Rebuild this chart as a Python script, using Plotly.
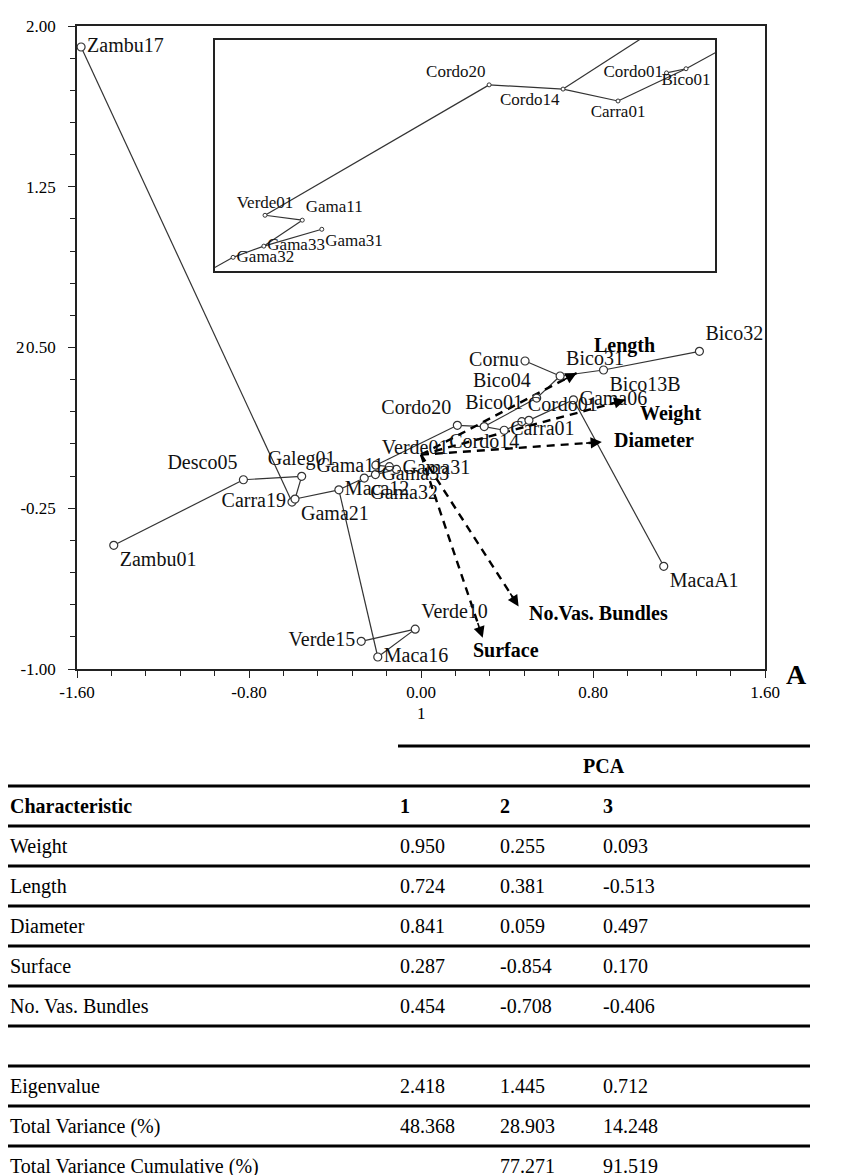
import plotly.graph_objects as go

# ---------------- data ----------------
names = ["Zambu17", "Zambu01", "Desco05", "Galeg01", "Carra19", "Gama21", "Maca12",
         "Maca16", "Verde15", "Verde10", "Gama32", "Gama33", "Gama31", "Gama11",
         "Verde01", "Cordo20", "Cordo14", "Carra01", "Cordo01", "Bico01", "Bico04",
         "Gama06", "MacaA1", "Bico31", "Cornu", "Bico13B", "Bico32"]
pc1 = [-1.581, -1.429, -0.826, -0.555, -0.600, -0.586, -0.382,
       -0.201, -0.278, -0.027, -0.264, -0.212, -0.114, -0.147,
       -0.210, 0.169, 0.294, 0.387, 0.469, 0.502, 0.538,
       0.709, 1.129, 0.647, 0.484, 0.849, 1.295]
pc2 = [1.902, -0.423, -0.117, -0.101, -0.221, -0.207, -0.164,
       -0.944, -0.871, -0.814, -0.109, -0.093, -0.069, -0.056,
       -0.049, 0.137, 0.131, 0.114, 0.154, 0.160, 0.264,
       0.256, -0.521, 0.367, 0.437, 0.395, 0.482]
edges = [("Zambu01", "Desco05"), ("Desco05", "Galeg01"), ("Galeg01", "Gama21"),
         ("Zambu17", "Carra19"), ("Carra19", "Gama21"), ("Gama21", "Maca12"),
         ("Maca12", "Maca16"), ("Maca16", "Verde10"), ("Verde15", "Verde10"),
         ("Maca12", "Gama32"), ("Gama32", "Gama33"), ("Gama33", "Gama31"),
         ("Gama33", "Gama11"), ("Gama11", "Verde01"), ("Verde01", "Cordo20"),
         ("Cordo20", "Cordo14"), ("Cordo14", "Carra01"), ("Cordo14", "Bico04"),
         ("Carra01", "Bico01"), ("Cordo01", "Bico01"), ("Bico01", "Gama06"),
         ("Gama06", "MacaA1"), ("Bico04", "Bico31"), ("Bico31", "Cornu"),
         ("Bico31", "Bico13B"), ("Bico13B", "Bico32")]

characteristics = ["Weight", "Length", "Diameter", "Surface", "No. Vas. Bundles"]
load1 = [0.950, 0.724, 0.841, 0.287, 0.454]
load2 = [0.255, 0.381, 0.059, -0.854, -0.708]
load3 = [0.093, -0.513, 0.497, 0.170, -0.406]
arrow_labels = ["Weight", "Length", "Diameter", "Surface", "No.Vas. Bundles"]

summary_rows = ["Eigenvalue", "Total Variance (%)", "Total Variance Cumulative (%)"]
summary1 = [2.418, 48.368, None]
summary2 = [1.445, 28.903, 77.271]
summary3 = [0.712, 14.248, 91.519]

x_ticks = [-1.6, -0.8, 0.0, 0.8, 1.6]
y_ticks = [-1.0, -0.25, 0.5, 1.25, 2.0]

# ---------------- styles / layout helpers ----------------
W, H = 865, 1175
SERIF = "Liberation Serif"
main_pos = ["middle right", "bottom right", "top left", "top center", "middle left",
            "bottom right", "middle right", "middle right", "middle left", "top right",
            "bottom right", "middle right", "middle right", "middle left", "top right",
            "top left", "bottom center", "middle right", "top right", "top left",
            "top left", "middle right", "bottom right", "top right", "middle left",
            "bottom right", "top right"]
inset_pos_map = {"Gama32": "middle right", "Gama33": "middle right", "Gama31": "bottom right",
                 "Gama11": "top right", "Verde01": "top center", "Cordo20": "top left",
                 "Cordo14": "bottom left", "Carra01": "bottom center",
                 "Cordo01": "middle left", "Bico01": "bottom center"}
INSET_X = [-0.2946, 0.551]
INSET_Y = [-0.1285, 0.201]


def px_x(p):
    return p / W


def px_y(p):
    return 1 - p / H


idx = {n: i for i, n in enumerate(names)}
ex, ey = [], []
for a, b in edges:
    ex += [pc1[idx[a]], pc1[idx[b]], None]
    ey += [pc2[idx[a]], pc2[idx[b]], None]

fig = go.Figure()
LINEC = "#333333"
# main tree
fig.add_trace(go.Scatter(x=ex, y=ey, mode="lines", line=dict(color=LINEC, width=1.2),
                         hoverinfo="skip", xaxis="x", yaxis="y"))
# loading arrows (dashed shafts)
for i in range(len(load1)):
    fig.add_trace(go.Scatter(x=[0, load1[i]], y=[0, load2[i]], mode="lines",
                             line=dict(color="black", width=2.4, dash="8px,6px"),
                             hoverinfo="skip", xaxis="x", yaxis="y"))
fig.add_trace(go.Scatter(x=pc1, y=pc2, mode="markers+text", text=names,
                         textposition=main_pos,
                         textfont=dict(family=SERIF, size=20, color="#111"),
                         marker=dict(symbol="circle", size=8, color="white",
                                     line=dict(color=LINEC, width=1.2)),
                         cliponaxis=False, xaxis="x", yaxis="y"))

# inset (zoom on central cluster)
inset_text, inset_tp = [], []
for n, x, y in zip(names, pc1, pc2):
    inside = INSET_X[0] <= x <= INSET_X[1] and INSET_Y[0] <= y <= INSET_Y[1]
    inset_text.append(n if inside else "")
    inset_tp.append(inset_pos_map.get(n, "middle right"))
fig.add_trace(go.Scatter(x=ex, y=ey, mode="lines", line=dict(color=LINEC, width=1.2),
                         hoverinfo="skip", xaxis="x2", yaxis="y2"))
fig.add_trace(go.Scatter(x=pc1, y=pc2, mode="markers+text", text=inset_text,
                         textposition=inset_tp,
                         textfont=dict(family=SERIF, size=17, color="#111"),
                         marker=dict(symbol="circle", size=4, color="white",
                                     line=dict(color=LINEC, width=1)),
                         xaxis="x2", yaxis="y2"))

annotations = []
shapes = []
# arrowheads + labels
label_shift = [(13, -13), (15, 28), (10, 2), (-12, -12), (8, -7)]
for i in range(len(load1)):
    x, y = load1[i], load2[i]
    norm = (x * x + y * y) ** 0.5
    ux, uy = x / norm, y / norm
    annotations.append(dict(x=x, y=y, ax=x - 0.08 * ux, ay=y - 0.08 * uy,
                            xref="x", yref="y", axref="x", ayref="y", text="",
                            showarrow=True, arrowhead=2, arrowsize=1.4,
                            arrowwidth=1.6, arrowcolor="black"))
    dx, dy = label_shift[i]
    annotations.append(dict(x=x, y=y, xref="x", yref="y", text="<b>%s</b>" % arrow_labels[i],
                            showarrow=False, xanchor="left", yanchor="middle",
                            xshift=dx, yshift=dy,
                            font=dict(family=SERIF, size=20, color="black")))

# axis titles and panel letter
annotations.append(dict(x=px_x(12), y=px_y(340), xref="paper", yref="paper", text="2",
                        xanchor="center", yanchor="middle",
                        showarrow=False, font=dict(family=SERIF, size=17)))
annotations.append(dict(x=px_x(413), y=px_y(705), xref="paper", yref="paper", text="1",
                        xanchor="center", yanchor="middle",
                        showarrow=False, font=dict(family=SERIF, size=17)))
annotations.append(dict(x=px_x(788), y=px_y(666), xref="paper", yref="paper", text="<b>A</b>",
                        xanchor="center", yanchor="middle",
                        showarrow=False, font=dict(family=SERIF, size=28)))

# ---------------- table ----------------
TFONT = dict(family=SERIF, size=20, color="black")
col_x = [0, 390, 490, 593]
RIGHT = 802
row_h = 40.0
top_rule = 738


def rule(y, x0=0, w=3):
    shapes.append(dict(type="line", xref="paper", yref="paper", x0=px_x(x0), x1=px_x(RIGHT),
                       y0=px_y(y), y1=px_y(y), line=dict(color="black", width=w)))


def cell(x, y, s, bold=False, anchor="left"):
    annotations.append(dict(x=px_x(x), y=px_y(y), xref="paper", yref="paper",
                            text=("<b>%s</b>" % s) if bold else s, showarrow=False,
                            xanchor=anchor, yanchor="middle", font=TFONT))


def fmt(v):
    return "" if v is None else "%.3f" % v


rule(top_rule, x0=col_x[1])
cell((col_x[1] + RIGHT) / 2, top_rule + row_h / 2, "PCA", bold=True, anchor="center")
y = top_rule + row_h
rule(y)
cell(col_x[0], y + row_h / 2, "Characteristic", bold=True)
for k, h in enumerate(["1", "2", "3"]):
    cell(col_x[k + 1], y + row_h / 2, h, bold=True)
y += row_h
rule(y)
for i, c in enumerate(characteristics):
    cell(col_x[0], y + row_h / 2, c)
    for k, v in enumerate([load1[i], load2[i], load3[i]]):
        cell(col_x[k + 1], y + row_h / 2, fmt(v))
    y += row_h
    rule(y)
y += row_h
rule(y)
for i, r in enumerate(summary_rows):
    cell(col_x[0], y + row_h / 2, r)
    for k, v in enumerate([summary1[i], summary2[i], summary3[i]]):
        if v is not None:
            cell(col_x[k + 1], y + row_h / 2, fmt(v))
    y += row_h
    if i < len(summary_rows) - 1:
        rule(y)

axis_common = dict(showline=True, mirror=True, linecolor="#222", linewidth=1.6,
                   showgrid=False, zeroline=False, ticks="outside", ticklen=7,
                   tickwidth=1.2, tickcolor="#222", automargin=False,
                   tickfont=dict(family=SERIF, size=17, color="black"))

fig.update_layout(
    width=W, height=H, autosize=False,
    margin=dict(l=0, r=0, t=0, b=0, pad=0),
    paper_bgcolor="white", plot_bgcolor="white", showlegend=False,
    font=dict(family=SERIF, color="black"),
    xaxis=dict(domain=[px_x(69), px_x(757)], range=[-1.6, 1.6], anchor="y",
               tickmode="array", tickvals=x_ticks, ticktext=["%.2f" % v for v in x_ticks],
               minor=dict(tickmode="linear", tick0=-1.6, dtick=0.16, ticks="outside",
                          ticklen=5, tickcolor="#222"),
               **axis_common),
    yaxis=dict(domain=[px_y(661), px_y(18)], range=[-1.0, 2.0], anchor="x",
               tickmode="array", tickvals=y_ticks, ticktext=["%.2f" % v for v in y_ticks],
               minor=dict(tickmode="linear", tick0=-1.0, dtick=0.15, ticks="outside",
                          ticklen=5, tickcolor="#222"),
               ticklabelstandoff=9,
               **axis_common),
    xaxis2=dict(domain=[px_x(207), px_x(707)], range=INSET_X, anchor="y2",
                showline=True, mirror=True, linecolor="#222", linewidth=1.6, automargin=False,
                showgrid=False, zeroline=False, showticklabels=False, ticks=""),
    yaxis2=dict(domain=[px_y(263), px_y(32)], range=INSET_Y, anchor="x2",
                showline=True, mirror=True, linecolor="#222", linewidth=1.6, automargin=False,
                showgrid=False, zeroline=False, showticklabels=False, ticks=""),
    annotations=annotations,
    shapes=shapes,
)

fig.write_html("out.html")
